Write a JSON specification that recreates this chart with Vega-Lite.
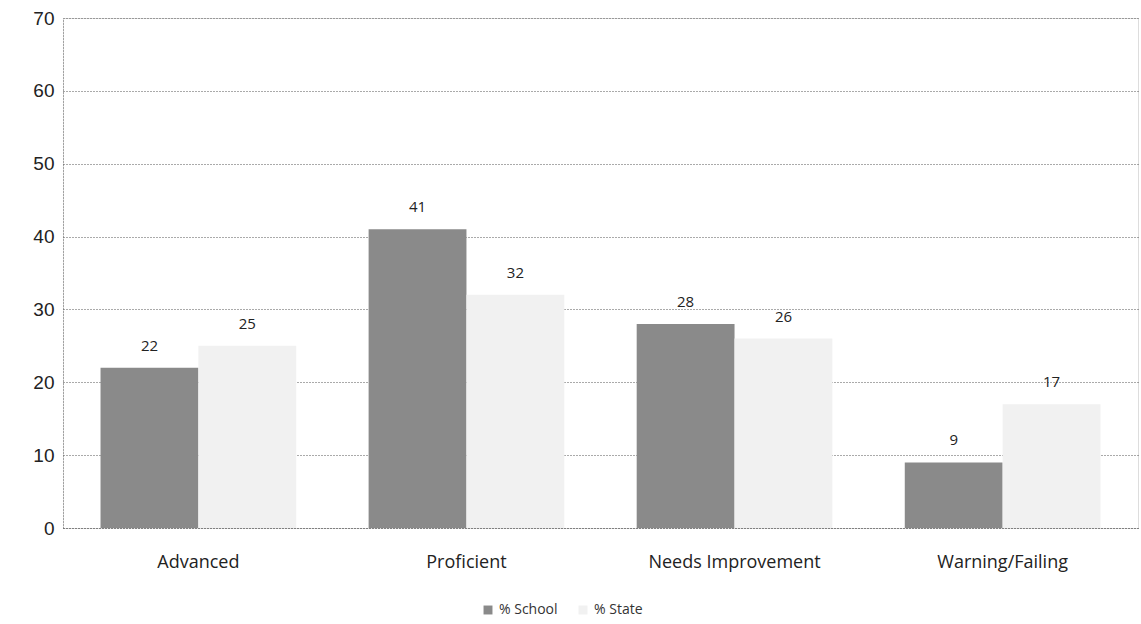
{
  "$schema": "https://vega.github.io/schema/vega-lite/v6.json",
  "width": 1075,
  "height": 510,
  "autosize": {"type": "none"},
  "padding": {"left": 63, "top": 18, "right": 3, "bottom": 96},
  "background": "white",
  "data": {"values": [
    {"level": "Advanced", "series": "% School", "value": 22},
    {"level": "Advanced", "series": "% State", "value": 25},
    {"level": "Proficient", "series": "% School", "value": 41},
    {"level": "Proficient", "series": "% State", "value": 32},
    {"level": "Needs Improvement", "series": "% School", "value": 28},
    {"level": "Needs Improvement", "series": "% State", "value": 26},
    {"level": "Warning/Failing", "series": "% School", "value": 9},
    {"level": "Warning/Failing", "series": "% State", "value": 17}
  ]},
  "encoding": {
    "x": {"field": "level", "type": "nominal", "sort": null,
      "scale": {"paddingInner": 0.27, "paddingOuter": 0.14},
      "axis": {"title": null, "labelAngle": 0, "labelFont": "Open Sans", "labelFontSize": 18, "labelColor": "#222", "labelPadding": 25, "ticks": false, "domain": true, "domainColor": "#666", "domainDash": [1, 2]}},
    "xOffset": {"field": "series", "type": "nominal", "sort": ["% School", "% State"], "scale": {"paddingInner": 0}},
    "y": {"field": "value", "type": "quantitative",
      "scale": {"domain": [0, 70]},
      "axis": {"title": null, "values": [0, 10, 20, 30, 40, 50, 60, 70], "labelFont": "Liberation Sans", "labelFontSize": 19, "labelColor": "#222", "labelPadding": 9, "ticks": false, "domain": true, "domainColor": "#666", "domainDash": [1, 2], "grid": true, "gridColor": "#555", "gridDash": [1, 2], "gridWidth": 1}}
  },
  "layer": [
    {
      "mark": {"type": "bar"},
      "encoding": {
        "color": {"field": "series", "type": "nominal",
          "scale": {"domain": ["% School", "% State"], "range": ["#8a8a8a", "#f1f1f1"]},
          "legend": {"title": null, "orient": "none", "legendX": 418, "legendY": 585, "direction": "horizontal", "symbolType": "square", "symbolSize": 80, "labelFont": "Open Sans", "labelFontSize": 14, "labelColor": "#333", "columnPadding": 18, "symbolStrokeWidth": 0}}
      }
    },
    {
      "mark": {"type": "text", "dy": -22, "font": "Open Sans", "fontSize": 15, "color": "#222"},
      "encoding": {"text": {"field": "value", "type": "quantitative"}}
    }
  ]
}
